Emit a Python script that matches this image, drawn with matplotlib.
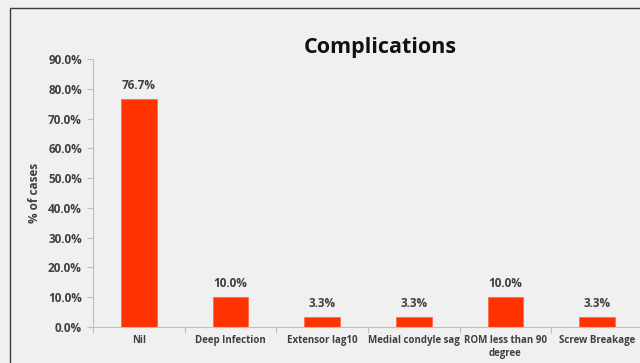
import matplotlib
matplotlib.use("Agg")
import matplotlib.pyplot as plt
from matplotlib.patches import Rectangle
from matplotlib.ticker import FuncFormatter, FixedLocator

categories = ["Nil", "Deep Infection", "Extensor lag10", "Medial condyle sag",
              "ROM less than 90\ndegree", "Screw Breakage"]
values = [76.7, 10.0, 3.3, 3.3, 10.0, 3.3]
value_labels = ["76.7%", "10.0%", "3.3%", "3.3%", "10.0%", "3.3%"]
yticks = [0, 10, 20, 30, 40, 50, 60, 70, 80, 90]

plt.rcParams["font.family"] = ["Open Sans", "DejaVu Sans"]
text_color = "#404040"
axis_color = "#bfbfbf"

fig = plt.figure(figsize=(6.4, 3.63), dpi=100)
fig.patch.set_facecolor("#f0f0f0")

# outer chart border (only top and left visible in the crop)
fig.patches.append(Rectangle((10 / 640, -0.1), 1.2, 1.1 - 8 / 363,
                             transform=fig.transFigure, fill=False,
                             edgecolor="#3a3a3a", linewidth=1.0))

ax = fig.add_axes([93 / 640, 1 - 327 / 363, 550 / 640, 268 / 363])
ax.set_facecolor("#f0f0f0")

x = range(len(categories))
bars = ax.bar(x, values, width=0.39, color="#ff3300", edgecolor="#ff6a4d",
              linewidth=0.6, zorder=2)

for b, lab in zip(bars, value_labels):
    ax.annotate(lab, (b.get_x() + b.get_width() / 2, b.get_height()),
                xytext=(0, 5), textcoords="offset points", ha="center",
                va="bottom", fontsize=8.5, fontweight="bold", color=text_color)

ax.set_xlim(-0.5, len(categories) - 0.5)
ax.set_ylim(0, 90)
ax.set_yticks(yticks)
ax.yaxis.set_major_formatter(FuncFormatter(lambda v, p: f"{v:.1f}%"))

# ticks between categories, labels centred under bars
ax.xaxis.set_major_locator(FixedLocator([i - 0.5 for i in range(len(categories) + 1)]))
ax.set_xticklabels([])
ax.xaxis.set_minor_locator(FixedLocator(list(x)))
ax.set_xticklabels(categories, minor=True)
ax.tick_params(axis="x", which="minor", length=0, pad=6, labelsize=7,
               colors=text_color)
ax.tick_params(axis="x", which="major", length=4, color=axis_color)
for t in ax.get_xticklabels(minor=True):
    t.set_fontweight("bold")

ax.tick_params(axis="y", length=4, color=axis_color, labelsize=8.5,
               labelcolor=text_color, pad=4)
for t in ax.get_yticklabels():
    t.set_fontweight("bold")

for s in ["top", "right"]:
    ax.spines[s].set_visible(False)
ax.spines["left"].set_color(axis_color)
ax.spines["bottom"].set_color(axis_color)

ax.set_ylabel("% of cases", fontsize=8.5, fontweight="bold", color=text_color,
              labelpad=5)

fig.text(0.594, 1 - 48 / 363, "Complications", ha="center", va="center",
         fontsize=15.5, fontweight="bold", color="#111111")

fig.savefig("out.png", dpi=100, facecolor=fig.get_facecolor())
